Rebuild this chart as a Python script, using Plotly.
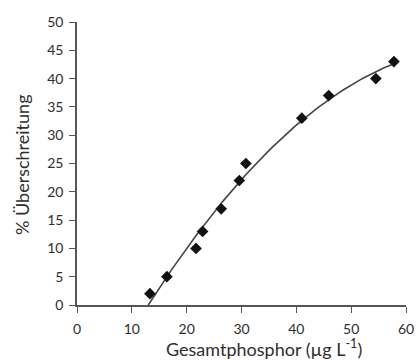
import numpy as np
import plotly.graph_objects as go

# Data
phosphor = [13.3, 16.4, 21.7, 22.9, 26.3, 29.6, 30.8, 41.0, 45.9, 54.5, 57.8]
ueberschreitung = [2, 5, 10, 13, 17, 22, 25, 33, 37, 40, 43]
x_ticks = [0, 10, 20, 30, 40, 50, 60]
y_ticks = [0, 5, 10, 15, 20, 25, 30, 35, 40, 45, 50]

# Polynomial (2nd order) trendline fitted to the data
coef = np.polyfit(phosphor, ueberschreitung, 2)
roots = [r.real for r in np.roots(coef) if abs(r.imag) < 1e-9 and 0 < r.real < min(phosphor)]
x_start = max(roots) if roots else min(phosphor)
x_fit = np.linspace(x_start, max(phosphor), 120)
y_fit = np.polyval(coef, x_fit)

fig = go.Figure()
fig.add_trace(go.Scatter(x=x_fit, y=y_fit, mode="lines",
                         line=dict(color="#4a4242", width=1.6), hoverinfo="skip"))
fig.add_trace(go.Scatter(x=phosphor, y=ueberschreitung, mode="markers",
                         marker=dict(symbol="diamond", size=9, color="#111111")))

axis_common = dict(showgrid=False, zeroline=False, showline=True, linecolor="#555555",
                   linewidth=1.5, ticks="outside", ticklen=6, tickwidth=1.3,
                   tickcolor="#555555", tickfont=dict(size=14, color="#2e2e2e"),
                   automargin=False)

FW, FH = 416, 360
# plot area in window pixels: x 77..406, y 22..305
L, R, T, B = 77, 406, 22, 305
W, H = R - L, B - T

fig.update_layout(
    width=FW, height=FH,
    margin=dict(l=L, r=FW - R, t=T, b=FH - B),
    paper_bgcolor="white", plot_bgcolor="white",
    showlegend=False,
    font=dict(family="Lato, Open Sans, sans-serif", color="#2e2e2e"),
    xaxis=dict(range=[0, 60], tickvals=x_ticks, ticklabelstandoff=4, **axis_common),
    yaxis=dict(range=[0, 50], tickvals=y_ticks, ticklabelstandoff=3, **axis_common),
    annotations=[
        dict(text="Gesamtphosphor (µg L<sup>-1</sup>)", xref="paper", yref="paper",
             x=(264 - L) / W, y=(B - 348) / H, xanchor="center", yanchor="middle",
             showarrow=False, font=dict(size=18, color="#2e2e2e")),
        dict(text="% Überschreitung", xref="paper", yref="paper",
             x=(22 - L) / W, y=(B - 165) / H, xanchor="center", yanchor="middle",
             textangle=-90, showarrow=False, font=dict(size=18, color="#2e2e2e")),
    ],
)

fig.write_html(
    "out.html",
    config={"displayModeBar": False},
    post_script="document.body.style.margin='0';document.body.style.overflow='hidden';",
)
